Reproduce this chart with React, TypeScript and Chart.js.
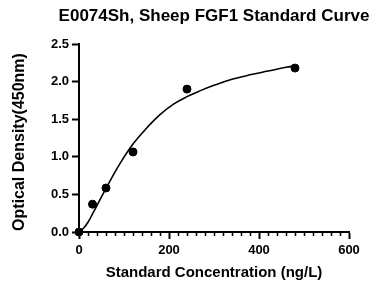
import React, { useEffect, useRef } from "react";
import { Chart, registerables } from "chart.js";

Chart.register(...registerables);

const titleText = "E0074Sh, Sheep FGF1 Standard Curve";
const xTitle = "Standard Concentration (ng/L)";
const yTitle = "Optical Density(450nm)";

const stdConc = [0, 30, 60, 120, 240, 480];
const stdOD = [0.0, 0.37, 0.585, 1.065, 1.9, 2.18];

const curveConc = [0, 10, 20, 30, 45, 60, 90, 120, 150, 180, 210, 240, 270, 300, 340, 380, 420, 460, 480];
const curveOD = [0, 0.05, 0.13, 0.24, 0.41, 0.58, 0.9, 1.17, 1.38, 1.56, 1.7, 1.8, 1.88, 1.95, 2.03, 2.09, 2.14, 2.19, 2.21];

const xTickLabels = [0, 200, 400, 600];
const yTickLabels = [0, 0.5, 1.0, 1.5, 2.0, 2.5];

const FONT = "Arial, 'Liberation Sans', sans-serif";

const textPlugin = {
  id: "textPlugin",
  afterDraw(chart: any) {
    const { ctx, chartArea, scales } = chart;
    const cx = (chartArea.left + chartArea.right) / 2;
    const cy = (chartArea.top + chartArea.bottom) / 2;
    ctx.save();
    ctx.fillStyle = "#000";
    ctx.textAlign = "center";
    ctx.textBaseline = "middle";
    ctx.font = `bold 17px ${FONT}`;
    ctx.fillText(titleText, cx, 16);
    ctx.font = `bold 15px ${FONT}`;
    ctx.fillText(xTitle, cx, 273);
    ctx.translate(20, cy + 4);
    ctx.rotate(-Math.PI / 2);
    ctx.font = `bold 16px ${FONT}`;
    ctx.fillText(yTitle, 0, 0);
    ctx.restore();

    // minor ticks on x axis
    const xs = scales.x;
    ctx.save();
    ctx.strokeStyle = "#000";
    ctx.lineWidth = 1.5;
    for (let v = 20; v < 600; v += 20) {
      if (v % 200 === 0) continue;
      const px = Math.round(xs.getPixelForValue(v)) + 0.5;
      ctx.beginPath();
      ctx.moveTo(px, chartArea.bottom);
      ctx.lineTo(px, chartArea.bottom + 4);
      ctx.stroke();
    }
    ctx.restore();
  },
};

export default function App() {
  const ref = useRef<HTMLCanvasElement>(null);
  useEffect(() => {
    if (!ref.current) return;
    const chart = new Chart(ref.current, {
      type: "scatter",
      data: {
        datasets: [
          {
            label: "fit",
            data: curveConc.map((x, i) => ({ x, y: curveOD[i] })),
            showLine: true,
            borderColor: "#000",
            borderWidth: 1.6,
            pointRadius: 0,
            tension: 0.4,
            fill: false,
          },
          {
            label: "standards",
            data: stdConc.map((x, i) => ({ x, y: stdOD[i] })),
            showLine: false,
            backgroundColor: "#000",
            borderColor: "#000",
            pointRadius: 4,
            pointHoverRadius: 4,
          },
        ],
      } as any,
      options: {
        animation: false,
        responsive: false,
        clip: false as any,
        events: [],
        layout: { padding: { left: 0, top: 44, right: 27, bottom: 0 } },
        plugins: {
          legend: { display: false },
          title: { display: false },
          tooltip: { enabled: false },
        },
        scales: {
          x: {
            type: "linear",
            min: 0,
            max: 600,
            afterFit: (s: any) => {
              s.height = 54;
            },
            afterBuildTicks: (s: any) => {
              s.ticks = xTickLabels.map((v) => ({ value: v }));
            },
            ticks: {
              color: "#000",
              font: { family: FONT, size: 13, weight: "bold" },
              padding: 4,
              maxRotation: 0,
            },
            grid: {
              drawOnChartArea: false,
              drawTicks: true,
              tickLength: 7,
              tickWidth: 2,
              tickColor: "#000",
              color: "#000",
            },
            border: { display: true, color: "#000", width: 2 },
          },
          y: {
            type: "linear",
            min: 0,
            max: 2.5,
            afterFit: (s: any) => {
              s.width = 79;
            },
            afterBuildTicks: (s: any) => {
              s.ticks = yTickLabels.map((v) => ({ value: v }));
            },
            ticks: {
              color: "#000",
              font: { family: FONT, size: 13, weight: "bold" },
              padding: 3,
              callback: (v: any) => Number(v).toFixed(1),
            },
            grid: {
              drawOnChartArea: false,
              drawTicks: true,
              tickLength: 7,
              tickWidth: 2,
              tickColor: "#000",
              color: "#000",
            },
            border: { display: true, color: "#000", width: 2 },
          },
        },
      },
      plugins: [textPlugin],
    });
    return () => chart.destroy();
  }, []);
  return (
    <div style={{ position: "fixed", left: 0, top: 0, width: 376, height: 286, background: "#fff" }}>
      <canvas ref={ref} width={376} height={286} style={{ width: 376, height: 286, display: "block" }} />
    </div>
  );
}
